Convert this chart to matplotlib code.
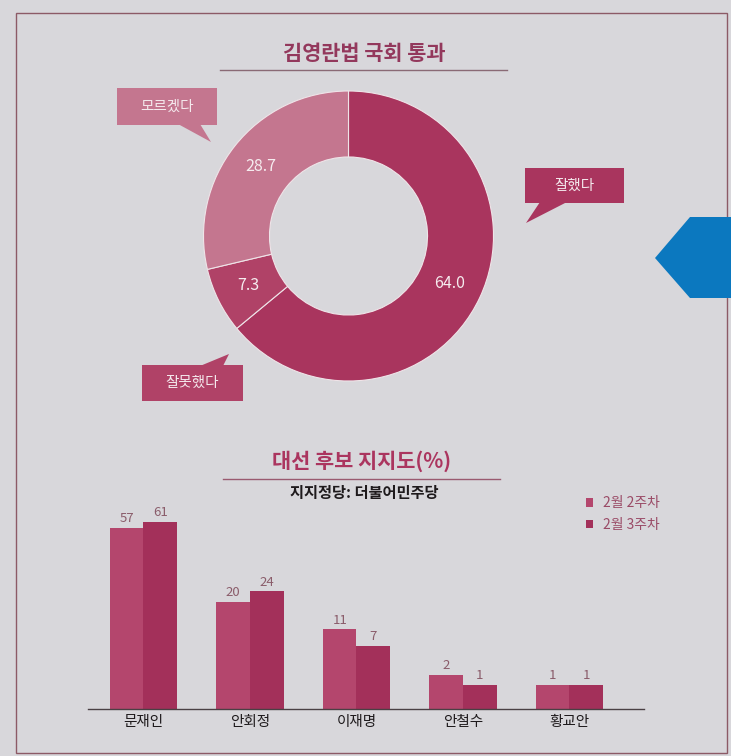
import numpy as np
import matplotlib
matplotlib.use("Agg")
from matplotlib import pyplot as plt
from matplotlib.patches import Rectangle, Polygon

plt.rcParams["font.family"] = ["Noto Sans CJK KR", "DejaVu Sans"]

# donut data
pie_labels = ["잘했다", "잘못했다", "모르겠다"]
pie_values = [64.0, 7.3, 28.7]
pie_colors = ["#a9355e", "#b04267", "#c4768f"]

# bar data
candidates = ["문재인", "안회정", "이재명", "안철수", "황교안"]
week2 = [57, 20, 11, 2, 1]
week3 = [61, 24, 7, 1, 1]
series_names = ["2월 2주차", "2월 3주차"]

W, H = 731, 756
paper = "#d8d7db"

fig = plt.figure(figsize=(W / 100, H / 100), dpi=100, facecolor=paper)

# overlay in pixel coords for frame, titles, callouts
bg = fig.add_axes([0, 0, 1, 1], zorder=0)
bg.set_xlim(0, W)
bg.set_ylim(H, 0)
bg.axis("off")

bg.add_patch(Rectangle((16, 13), 711, 740, fill=False, edgecolor="#8c5a66", lw=1))
# blue tab on the page edge
bg.add_patch(Polygon([(690, 217), (731, 217), (731, 298), (690, 298), (655, 258)],
                     closed=True, facecolor="#0b78bf", edgecolor="none", zorder=5))

# titles
bg.text(364, 53, "김영란법 국회 통과", ha="center", va="center", fontsize=15,
        fontweight="bold", color="#93385c")
bg.plot([220, 507], [70, 70], color="#8a6a75", lw=1)
bg.text(362, 461, "대선 후보 지지도(%)", ha="center", va="center", fontsize=15,
        fontweight="bold", color="#ab355f")
bg.plot([223, 500], [479, 479], color="#9a5a70", lw=1)
bg.text(364, 493, "지지정당: 더불어민주당", ha="center", va="center", fontsize=11,
        fontweight="bold", color="#1e1a1c")


def callout(x0, y0, x1, y1, tail, color, text):
    bg.add_patch(Rectangle((x0, y0), x1 - x0, y1 - y0, facecolor=color, edgecolor="none"))
    bg.add_patch(Polygon(tail, closed=True, facecolor=color, edgecolor="none"))
    bg.text((x0 + x1) / 2, (y0 + y1) / 2, text, ha="center", va="center",
            fontsize=10.5, color="#f4e8ec")


callout(525, 168, 624, 203, [(540, 202), (567, 202), (526, 223)], pie_colors[0], pie_labels[0])
callout(142, 365, 243, 401, [(200, 366), (223, 366), (229, 354)], pie_colors[1], pie_labels[1])
callout(117, 88, 217, 125, [(178, 124), (200, 124), (211, 142)], pie_colors[2], pie_labels[2])

# donut
cx, cy, r = 348.5, 236, 145
ax_pie = fig.add_axes([(cx - r) / W, (H - cy - r) / H, 2 * r / W, 2 * r / H], zorder=2)
ax_pie.pie(pie_values, colors=pie_colors, startangle=90, counterclock=False,
           radius=1, autopct="%.1f", pctdistance=0.77,
           wedgeprops=dict(width=0.455, edgecolor="#efe4e8", linewidth=0.8),
           textprops=dict(color="#f6ecef", fontsize=11.5))
ax_pie.set_xlim(-1, 1)
ax_pie.set_ylim(-1, 1)
ax_pie.set_aspect("equal")
ax_pie.axis("off")

# bars (heights drawn on a square-root scale, like the printed chart)
ax = fig.add_axes([88 / W, (H - 709) / H, 556 / W, 240 / H], zorder=2)
ax.set_facecolor("none")
ax.set_yscale("function", functions=(lambda v: np.sqrt(np.clip(v, 0, None)), np.square))
x = np.arange(len(candidates))
bw = 0.315
b1 = ax.bar(x - bw / 2, week2, bw, color="#b4466d", label=series_names[0])
b2 = ax.bar(x + bw / 2, week3, bw, color="#a3305a", label=series_names[1])
ax.bar_label(b1, padding=2, fontsize=9.5, color="#8a5c6a")
ax.bar_label(b2, padding=2, fontsize=9.5, color="#8a5c6a")
ax.set_xlim(-0.521, 4.70)
ax.set_ylim(0, 100)
ax.set_xticks(x)
ax.set_xticklabels(candidates, fontsize=10.5, color="#1e1a1c", fontweight="medium")
ax.tick_params(axis="x", length=0, pad=4)
ax.set_yticks([])
ax.yaxis.set_minor_locator(matplotlib.ticker.NullLocator())
for s in ["top", "right", "left"]:
    ax.spines[s].set_visible(False)
ax.spines["bottom"].set_color("#4a4044")
ax.spines["bottom"].set_linewidth(1)

fig.legend(handles=[b1, b2], loc="upper left", bbox_to_anchor=(573 / W, 1 - 484 / H),
           frameon=False, fontsize=10, labelcolor="#9a4a66", handlelength=0.55,
           handleheight=0.55, handletextpad=0.7, labelspacing=0.55)

fig.savefig("out.png", dpi=100, facecolor=paper)
